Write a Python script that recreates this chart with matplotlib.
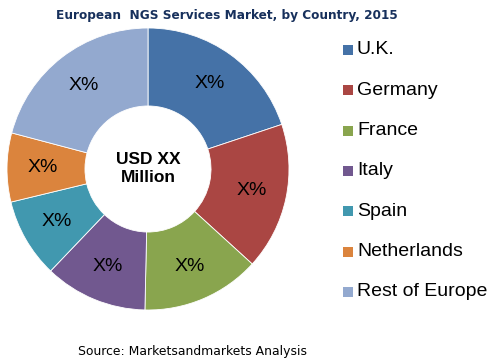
import matplotlib
matplotlib.use("Agg")
import matplotlib.pyplot as plt
from matplotlib.patches import Rectangle

categories = ["U.K.", "Germany", "France", "Italy", "Spain", "Netherlands", "Rest of Europe"]
shares = [19.9, 16.9, 13.6, 11.8, 9.1, 7.9, 20.9]
colors = ["#4572A7", "#AA4643", "#89A54E", "#71588F", "#4198AF", "#DB843D", "#93A9CF"]
slice_label = "X%"
center_label = "USD XX\nMillion"
title = "European  NGS Services Market, by Country, 2015"
source = "Source: Marketsandmarkets Analysis"

W, H = 492, 361
fig = plt.figure(figsize=(W / 100, H / 100), dpi=100)
fig.patch.set_facecolor("white")

cx, cy, R = 148, 169, 141
ax = fig.add_axes([(cx - R) / W, (H - cy - R) / H, 2 * R / W, 2 * R / H])
ax.pie(shares, colors=colors, startangle=90, counterclock=False, radius=1.0,
       wedgeprops=dict(width=0.553, edgecolor="white", linewidth=0.6),
       autopct=lambda p: slice_label, pctdistance=0.75,
       textprops=dict(fontsize=14, family="Liberation Sans", color="black"))
ax.set_xlim(-1, 1)
ax.set_ylim(-1, 1)
ax.set_aspect("equal")
ax.axis("off")
ax.text(0, 0, center_label, ha="center", va="center", fontsize=12.5,
        fontweight="bold", family="Liberation Sans", linespacing=1.25)

fig.text(226.5 / W, 1 - 15 / H, title, ha="center", va="center", fontsize=8.7,
         fontweight="bold", family="DejaVu Sans", color="#17305c")
fig.text(193 / W, 1 - 352 / H, source, ha="center", va="center", fontsize=8.9,
         family="DejaVu Sans", color="black")

y0, dy = 50, 40.3
for i, (cat, col) in enumerate(zip(categories, colors)):
    yc = y0 + i * dy
    fig.patches.append(Rectangle((343 / W, 1 - (yc + 5) / H), 10 / W, 10 / H,
                                 transform=fig.transFigure, facecolor=col,
                                 edgecolor="none"))
    fig.text(357 / W, 1 - yc / H, cat, ha="left", va="center", fontsize=14,
             family="Liberation Sans", color="black")

fig.savefig("out.png", dpi=100, facecolor="white")
